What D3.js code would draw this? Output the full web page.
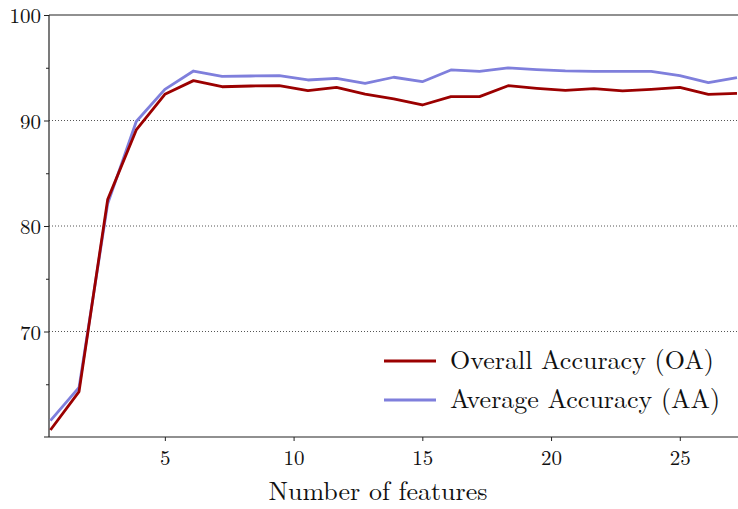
<!DOCTYPE html>
<html><head><meta charset="utf-8">
<script src="https://cdn.jsdelivr.net/npm/d3@7"></script>
<style>body{margin:0;background:#fff}svg{display:block}</style>
</head><body><svg id="c" width="738" height="509"></svg>
<script>
const features = [0.556,1.667,2.778,3.889,5.0,6.111,7.222,8.333,9.444,10.556,11.667,12.778,13.889,15.0,16.111,17.222,18.333,19.444,20.556,21.667,22.778,23.889,25.0,26.111,27.222];
const overallAccuracy = [60.66,64.3,82.5,89.1,92.48,93.78,93.2,93.27,93.3,92.83,93.14,92.51,92.04,91.47,92.26,92.26,93.3,93.05,92.85,93.02,92.8,92.95,93.14,92.48,92.58];
const averageAccuracy = [61.55,64.7,82.1,89.9,92.95,94.69,94.18,94.22,94.25,93.84,94.0,93.52,94.1,93.68,94.79,94.66,94.98,94.82,94.7,94.66,94.66,94.66,94.25,93.59,94.06];
const xTicks = [5,10,15,20,25];
const yTicks = [70,80,90,100];
const yMinor = [65,75,85,95];
const seriesNames = ["Overall Accuracy (OA)","Average Accuracy (AA)"];
const colors = ["#9b0000","#7f7fdc"];
const FONT = '"Latin Modern Roman","CMU Serif","Liberation Serif",serif';

const svg = d3.select("#c");
const L=49, T=15, B=437, R=739;
const x = d3.scaleLinear().domain([0.5,27.3]).range([L,R]);
const y = d3.scaleLinear().domain([60,100]).range([B,T]);

svg.append("defs").append("clipPath").attr("id","clip").append("rect")
  .attr("x",L).attr("y",T).attr("width",R-L).attr("height",B-T);

// grid
svg.append("g").selectAll("line").data([70,80,90]).join("line")
  .attr("x1",L).attr("x2",R).attr("y1",d=>y(d)).attr("y2",d=>y(d))
  .attr("stroke","#555").attr("stroke-width",1).attr("stroke-dasharray","1,2");

// axes
const yAxis = svg.append("g").attr("transform",`translate(${L},0)`)
  .call(d3.axisLeft(y).tickValues(yTicks).tickSize(5).tickPadding(3).tickFormat(d3.format("d")));
const yAxisMinor = svg.append("g").attr("transform",`translate(${L},0)`)
  .call(d3.axisLeft(y).tickValues(yMinor).tickSize(3).tickFormat(""));
const xAxis = svg.append("g").attr("transform",`translate(0,${B})`)
  .call(d3.axisBottom(x).tickValues(xTicks).tickSize(4).tickPadding(5).tickFormat(d3.format("d")));
[yAxis,yAxisMinor,xAxis].forEach(g=>{
  g.attr("font-family",FONT).attr("font-size",21);
  g.select(".domain").remove();
  g.selectAll("line").attr("stroke","#222");
  g.selectAll("text").attr("fill","#111");
});
yAxis.selectAll("text").attr("dy","0.36em");
xAxis.selectAll("text").attr("dy","0.9em");

// frame
svg.append("line").attr("x1",L).attr("x2",R).attr("y1",T).attr("y2",T).attr("stroke","#222").attr("stroke-width",1.2);
svg.append("line").attr("x1",L).attr("x2",L).attr("y1",T).attr("y2",B).attr("stroke","#222").attr("stroke-width",1.2);
svg.append("line").attr("x1",L-5).attr("x2",R).attr("y1",B).attr("y2",B).attr("stroke","#222").attr("stroke-width",1.2);

// lines
const line = d3.line().x((d,i)=>x(features[i])).y(d=>y(d));
const g = svg.append("g").attr("clip-path","url(#clip)");
g.append("path").datum(averageAccuracy).attr("d",line).attr("fill","none").attr("stroke",colors[1]).attr("stroke-width",2.8).attr("stroke-linejoin","round");
g.append("path").datum(overallAccuracy).attr("d",line).attr("fill","none").attr("stroke",colors[0]).attr("stroke-width",2.8).attr("stroke-linejoin","round");

// legend
const lg = svg.append("g");
seriesNames.forEach((n,i)=>{
  const yy = 361 + i*39;
  lg.append("line").attr("x1",384).attr("x2",436).attr("y1",yy).attr("y2",yy).attr("stroke",colors[i]).attr("stroke-width",2.8);
  lg.append("text").attr("x",450).attr("y",yy+8).attr("font-family",FONT).attr("font-size",26).attr("fill","#111").text(n);
});

// x label
svg.append("text").attr("x",378).attr("y",500).attr("text-anchor","middle").attr("font-family",FONT).attr("font-size",26).attr("fill","#111").text("Number of features");
</script></body></html>
